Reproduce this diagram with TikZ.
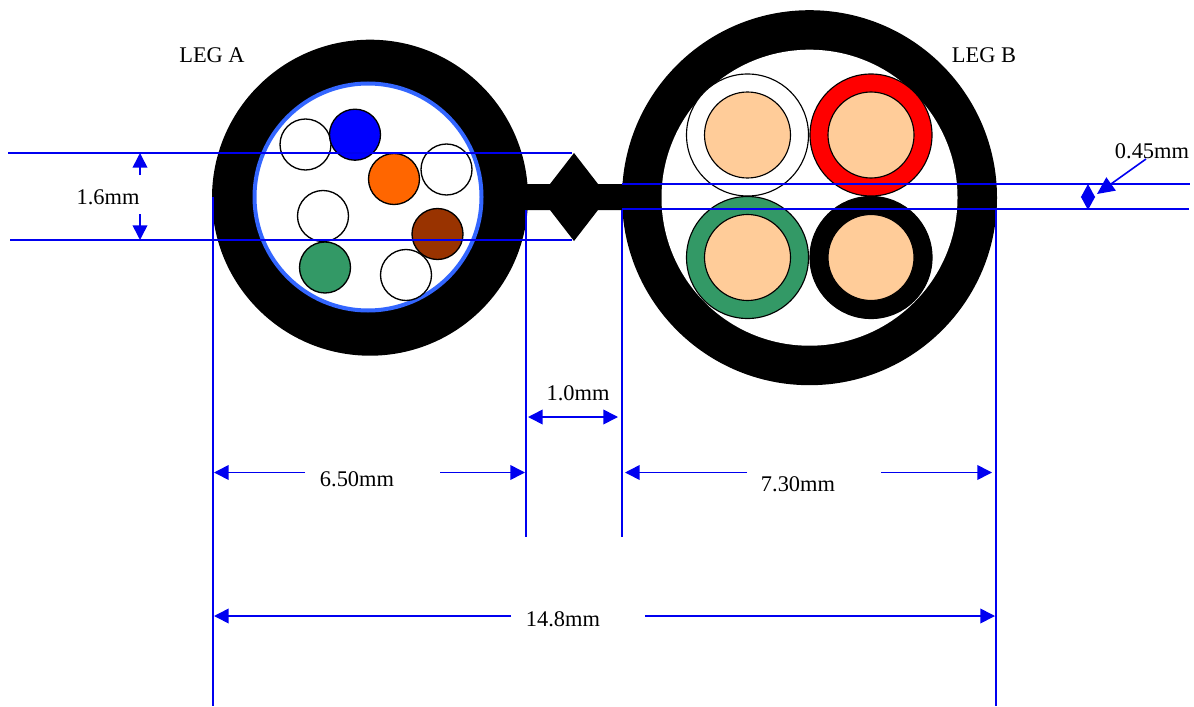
\documentclass[tikz,border=0pt]{standalone}
\usepackage{fontspec}
\setmainfont{Liberation Serif}
\usetikzlibrary{arrows.meta}
\definecolor{tan}{HTML}{FFCC99}
\definecolor{seagreen}{HTML}{339966}
\definecolor{ringblue}{HTML}{3366FF}
\definecolor{rust}{HTML}{993300}
\definecolor{orng}{HTML}{FF6600}
\definecolor{dimblue}{HTML}{0000F0}
\tikzset{
  x=0.75pt,y=-0.75pt,
  dimline/.style={draw=dimblue,line width=1.2pt},
  dimarrow/.style={dimline,-{Triangle[length=11pt,width=11pt]}},
  fibre/.style={draw=black,line width=1pt},
  core/.style={draw=black,line width=0.85pt},
  lbl/.style={font=\fontsize{16.8}{18}\selectfont,inner sep=0pt,text=black}
}
\newcommand{\fibrec}[3]{\filldraw[fibre,fill=#3] (#1,#2) circle[radius=25.5];}
\newcommand{\corec}[3]{\filldraw[core,fill=#3] (#1,#2) circle[radius=61];\filldraw[core,fill=tan] (#1,#2) circle[radius=43];}
\begin{document}
\begin{tikzpicture}
\useasboundingbox (0,0) rectangle (1194,706);
% jacket and web
\fill[black] (370,197.7) circle[radius=158];
\fill[black] (809.5,197.7) circle[radius=187.5];
\fill[black] (520,184) -- (550,184) -- (574,153) -- (598,184) -- (630,184) -- (630,210) -- (598,210) -- (574,241) -- (550,210) -- (520,210) -- cycle;
% leg A
\filldraw[draw=ringblue,fill=white,line width=3pt] (368,197) circle[radius=113.5];
\fibrec{305.5}{144.5}{white}
\fibrec{355}{134.7}{blue}
\fibrec{394}{179}{orng}
\fibrec{446.5}{169.5}{white}
\fibrec{323}{216}{white}
\fibrec{437.5}{234}{rust}
\fibrec{325}{267.5}{seagreen}
\fibrec{406}{275}{white}
% leg B
\fill[white] (809.5,197.7) circle[radius=148];
\corec{747.5}{135}{white}
\corec{871}{135}{red}
\corec{747.5}{257.5}{seagreen}
\corec{871}{257.5}{black}
% anchors
\coordinate (t1a) at (8,153); \coordinate (t1b) at (572,153);
\coordinate (t2a) at (10,240); \coordinate (t2b) at (572,240);
\coordinate (t3a) at (622,184); \coordinate (t3b) at (1190,184);
\coordinate (t4a) at (622,209); \coordinate (t4b) at (1189,209);
\coordinate (v1a) at (213,197); \coordinate (v1b) at (213,706);
\coordinate (v2a) at (526,210); \coordinate (v2b) at (526,537);
\coordinate (v3a) at (622,210); \coordinate (v3b) at (622,537);
\coordinate (v4a) at (996,210); \coordinate (v4b) at (996,706);
% extension lines
\draw[dimline] (t1a) -- (t1b);
\draw[dimline] (t2a) -- (t2b);
\draw[dimline] (t3a) -- (t3b);
\draw[dimline] (t4a) -- (t4b);
\draw[dimline] (v1a) -- (v1b);
\draw[dimline] (v2a) -- (v2b);
\draw[dimline] (v3a) -- (v3b);
\draw[dimline] (v4a) -- (v4b);
% labels
\node[lbl] (lega) at (212,55) {LEG A};
\node[lbl] (legb) at (984,55) {LEG B};
\node[lbl] (d16) at (108,197) {1.6mm};
\node[lbl] (d045) at (1152,151) {0.45mm};
\node[lbl] (d10) at (578,393) {1.0mm};
\node[lbl] (d650) at (357,479) {6.50mm};
\node[lbl] (d730) at (798,484) {7.30mm};
\node[lbl] (d148) at (563,619) {14.8mm};
% dimension arrows
\coordinate (a1) at (140,175); \coordinate (a1t) at (140,153);
\coordinate (a2) at (140,214); \coordinate (a2t) at (140,240);
\draw[dimarrow] (a1) -- (a1t);
\draw[dimarrow] (a2) -- (a2t);
\coordinate (b1) at (1146,159); \coordinate (b1t) at (1097,194);
\draw[dimarrow,-{Triangle[length=13pt,width=12pt]}] (b1) -- (b1t);
\coordinate (c0) at (1088,197); \coordinate (c1) at (1088,184); \coordinate (c2) at (1088,210);
\draw[dimline,-{Triangle[length=10pt,width=10.5pt]}] (c0) -- (c1);
\draw[dimline,-{Triangle[length=10pt,width=10.5pt]}] (c0) -- (c2);
\coordinate (e0) at (573,417); \coordinate (e1) at (528,417); \coordinate (e2) at (618,417);
\draw[dimarrow] (e0) -- (e1);
\draw[dimarrow] (e0) -- (e2);
\coordinate (f1) at (305,472.5); \coordinate (f1t) at (214,472.5);
\coordinate (f2) at (440,472.5); \coordinate (f2t) at (525,472.5);
\draw[dimarrow] (f1) -- (f1t);
\draw[dimarrow] (f2) -- (f2t);
\coordinate (g1) at (747,472.5); \coordinate (g1t) at (625,472.5);
\coordinate (g2) at (881,472.5); \coordinate (g2t) at (992,472.5);
\draw[dimarrow] (g1) -- (g1t);
\draw[dimarrow] (g2) -- (g2t);
\coordinate (h1) at (511,616); \coordinate (h1t) at (214,616);
\coordinate (h2) at (645,616); \coordinate (h2t) at (995,616);
\draw[dimarrow] (h1) -- (h1t);
\draw[dimarrow] (h2) -- (h2t);
\end{tikzpicture}
\end{document}
